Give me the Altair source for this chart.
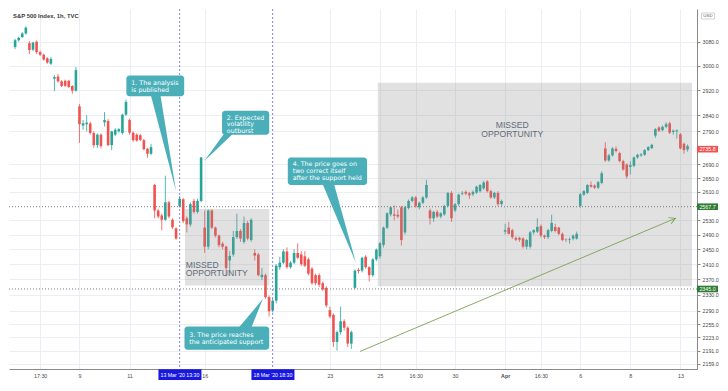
import altair as alt
import pandas as pd

W, H = 688, 360
FONT = "Liberation Sans, Arial, sans-serif"
CFONT = "DejaVu Sans, Verdana, sans-serif"
GREEN = "#26a69a"
RED = "#ef5350"
TEAL = "#4aafb9"

TITLE = "S&P 500 Index, 1h, TVC"

# ---- hourly candles, bar index 3..191 (7 bars per session) ----
FIRST_BAR = 3
opens = [3062, 3085, 3096, 3108,
         3075, 3053, 3080, 3045, 3036, 3024, 3006,
         2957, 2964, 2948, 2950, 2950, 2933, 2918,
         2868, 2808, 2812, 2815, 2785, 2748, 2780,
         2818, 2822, 2748, 2780, 2790, 2785, 2842,
         2825, 2786, 2780, 2778, 2763, 2737, 2722,
         2630, 2557, 2543, 2531, 2580, 2531, 2507,
         2570, 2589, 2535, 2518, 2584, 2553, 2584,
         2509, 2457, 2557, 2509, 2487, 2465, 2457,
         2420, 2436, 2483, 2500, 2470, 2522, 2475,
         2440, 2436, 2376, 2381, 2324, 2290, 2315,
         2402, 2414, 2444, 2402, 2414, 2440, 2436,
         2431, 2423, 2398, 2381, 2381, 2360, 2348,
         2291, 2279, 2212, 2236, 2263, 2247, 2208,
         2348, 2395, 2393, 2430, 2402, 2381, 2423,
         2431, 2462, 2509, 2546, 2546, 2545, 2566,
         2496, 2564, 2584, 2594, 2566, 2579, 2594,
         2557, 2535, 2553, 2540, 2546, 2570, 2607,
         2557, 2575, 2605, 2610, 2606, 2603, 2608,
         2612, 2620, 2640, 2612, 2594, 2607, 2575,
         2498, 2509, 2502, 2481, 2481, 2479, 2457,
         2457, 2496, 2498, 2513, 2487, 2483, 2500,
         2511, 2509, 2492, 2477, 2475, 2479, 2479,
         2570, 2602, 2607, 2630, 2628, 2622, 2636,
         2738, 2702, 2717, 2737, 2724, 2700, 2690,
         2683, 2686, 2711, 2717, 2719, 2733, 2739,
         2777, 2802, 2794, 2804, 2815, 2788, 2790,
         2781, 2752, 2735]
highs = [3090, 3097, 3112, 3132,
         3082, 3080, 3084, 3050, 3040, 3028, 3028,
         2968, 2972, 2952, 2954, 2953, 2936, 2995,
         2875, 2825, 2840, 2820, 2790, 2784, 2784,
         2850, 2828, 2792, 2800, 2800, 2845, 2890,
         2830, 2790, 2784, 2782, 2767, 2740, 2752,
         2633, 2562, 2548, 2657, 2584, 2535, 2510,
         2598, 2592, 2540, 2580, 2590, 2590, 2712,
         2557, 2560, 2560, 2512, 2490, 2470, 2460,
         2445, 2500, 2548, 2505, 2540, 2528, 2535,
         2450, 2440, 2400, 2385, 2328, 2320, 2410,
         2430, 2450, 2455, 2418, 2450, 2466, 2445,
         2445, 2428, 2402, 2385, 2386, 2364, 2352,
         2300, 2283, 2240, 2300, 2268, 2250, 2240,
         2396, 2400, 2430, 2434, 2405, 2426, 2452,
         2470, 2512, 2552, 2568, 2572, 2560, 2570,
         2570, 2588, 2598, 2598, 2582, 2598, 2645,
         2562, 2556, 2558, 2552, 2573, 2610, 2612,
         2578, 2605, 2612, 2614, 2610, 2614, 2628,
         2633, 2642, 2644, 2616, 2610, 2612, 2588,
         2520, 2525, 2506, 2485, 2484, 2483, 2478,
         2500, 2505, 2535, 2518, 2490, 2506, 2545,
         2520, 2512, 2496, 2480, 2482, 2490, 2498,
         2607, 2615, 2632, 2640, 2632, 2642, 2670,
         2757, 2722, 2742, 2744, 2728, 2704, 2694,
         2700, 2714, 2722, 2724, 2736, 2745, 2752,
         2800, 2806, 2808, 2818, 2820, 2796, 2796,
         2785, 2756, 2750]
lows = [3055, 3080, 3092, 3104,
        3038, 3048, 3038, 3032, 3016, 3006, 3002,
        2917, 2944, 2930, 2930, 2927, 2908, 2915,
        2755, 2795, 2790, 2780, 2740, 2740, 2738,
        2805, 2745, 2733, 2775, 2786, 2780, 2838,
        2780, 2758, 2758, 2760, 2732, 2710, 2718,
        2535, 2535, 2502, 2528, 2535, 2505, 2476,
        2565, 2522, 2496, 2512, 2548, 2548, 2580,
        2440, 2450, 2505, 2482, 2455, 2450, 2378,
        2380, 2430, 2478, 2470, 2465, 2474, 2470,
        2420, 2378, 2368, 2320, 2275, 2285, 2308,
        2395, 2410, 2398, 2398, 2410, 2424, 2405,
        2402, 2380, 2356, 2355, 2350, 2340, 2298,
        2270, 2200, 2191, 2230, 2240, 2200, 2195,
        2345, 2385, 2388, 2398, 2364, 2376, 2418,
        2425, 2455, 2505, 2540, 2530, 2535, 2460,
        2490, 2560, 2580, 2565, 2560, 2575, 2590,
        2518, 2525, 2536, 2535, 2542, 2566, 2525,
        2552, 2570, 2600, 2600, 2590, 2598, 2604,
        2608, 2616, 2608, 2590, 2590, 2570, 2570,
        2490, 2490, 2478, 2472, 2470, 2452, 2450,
        2452, 2490, 2494, 2482, 2478, 2478, 2496,
        2496, 2488, 2472, 2470, 2465, 2474, 2476,
        2565, 2598, 2604, 2622, 2618, 2618, 2632,
        2698, 2698, 2714, 2726, 2696, 2672, 2648,
        2660, 2682, 2707, 2713, 2716, 2730, 2736,
        2770, 2788, 2790, 2800, 2782, 2780, 2768,
        2735, 2722, 2728]
closes = [3085, 3093, 3108, 3128,
          3052, 3077, 3045, 3036, 3020, 3010, 3022,
          2962, 2948, 2933, 2934, 2930, 2918, 2985,
          2812, 2815, 2817, 2785, 2748, 2780, 2745,
          2825, 2748, 2790, 2795, 2797, 2842, 2882,
          2786, 2763, 2762, 2764, 2736, 2722, 2742,
          2557, 2540, 2531, 2580, 2540, 2510, 2479,
          2590, 2527, 2518, 2575, 2553, 2584, 2711,
          2457, 2557, 2509, 2487, 2461, 2457, 2400,
          2432, 2483, 2500, 2479, 2522, 2479, 2531,
          2433, 2381, 2382, 2324, 2288, 2315, 2406,
          2414, 2444, 2402, 2414, 2440, 2427, 2410,
          2406, 2385, 2360, 2360, 2356, 2344, 2303,
          2275, 2212, 2236, 2263, 2247, 2208, 2236,
          2393, 2392, 2427, 2402, 2381, 2423, 2449,
          2466, 2509, 2549, 2566, 2542, 2540, 2475,
          2566, 2584, 2594, 2569, 2579, 2594, 2630,
          2535, 2553, 2540, 2549, 2570, 2607, 2535,
          2575, 2602, 2607, 2605, 2600, 2610, 2625,
          2630, 2637, 2612, 2594, 2607, 2575, 2584,
          2502, 2492, 2483, 2476, 2476, 2457, 2475,
          2496, 2502, 2511, 2487, 2483, 2502, 2522,
          2500, 2492, 2475, 2476, 2477, 2487, 2492,
          2603, 2612, 2630, 2625, 2622, 2638, 2664,
          2702, 2717, 2738, 2730, 2700, 2675, 2655,
          2688, 2711, 2719, 2720, 2733, 2742, 2749,
          2797, 2792, 2804, 2812, 2786, 2792, 2793,
          2738, 2733, 2745]
bar_index = list(range(FIRST_BAR, FIRST_BAR + len(opens)))

# ---- axes ----
x_tick_bars = [10, 21, 35, 56, 91, 105, 115, 126, 140, 150, 161, 175, 189]
x_tick_labels = ["17:30", "9", "11", "16", "23", "25", "16:30", "30", "Apr", "16:30", "6", "8", "13"]
y_ticks = [3080, 3000, 2920, 2840, 2790, 2690, 2650, 2610, 2530, 2490, 2450,
           2410, 2370, 2330, 2290, 2255, 2223, 2191, 2159]
X_DOMAIN = [2.69, 192.24]
Y_DOMAIN = [2147, 3193]

# ---- drawings ----
marker_bars = [49, 75]
marker_labels = ["13 Mar '20  13:30", "18 Mar '20  18:30"]
level_prices = [2567.7, 2345.0]
level_labels = ["2567.7", "2345.0"]
last_price = 2735.8

zone_ids = ["small", "big"]
zone_x1 = [50.5, 104.4]
zone_x2 = [74.04, 192.24]
zone_p1 = [2354, 2352]
zone_p2 = [2561, 2944]

trend_bars = [99.43, 187.6]
trend_prices = [2189, 2535]

box_ids = ["b1", "b2", "b3", "b4"]
box_x1 = [34.11, 60.85, 50.35, 79.24]
box_x2 = [50.27, 74.04, 74.04, 101.4]
box_p1 = [2900, 2780, 2193, 2630]
box_p2 = [2967, 2854, 2250, 2711]

ptr_base_p = [2906, 2786, 2244, 2636]
ptr_base_xa = [40.9, 61.6, 65.2, 88.85]
ptr_base_xb = [43.6, 64.2, 68.9, 92.08]
ptr_tip_x = [48.0, 55.9, 72.25, 98.27]
ptr_tip_p = [2612, 2700, 2319, 2414]

callout_lines = ["1. The analysis", "is published",
                 "2. Expected", "volatility", "outburst",
                 "3. The price reaches", "the anticipated support",
                 "4. The price goes on", "two correct itself", "after the support held"]
callout_x = [35.5, 35.5, 62.2, 62.2, 62.2, 51.7, 51.7, 80.6, 80.6, 80.6]
callout_p = [2942, 2921, 2831, 2811.5, 2792, 2229, 2212, 2690, 2670, 2651]

missed_lines = ["MISSED", "OPPORTUNITY", "MISSED", "OPPORTUNITY"]
missed_x = [50.7, 50.7, 142.0, 142.0]
missed_p = [2408, 2385.6, 2808.6, 2781]
missed_align = ["left", "left", "center", "center"]

# ---------------------------------------------------------------
xs = alt.Scale(domain=X_DOMAIN, nice=False, zero=False)
ys = alt.Scale(type="log", domain=Y_DOMAIN, nice=False, zero=False)

label_expr = "".join(f"datum.value == {k} ? '{t}' : " for k, t in zip(x_tick_bars, x_tick_labels)) + "''"
x_axis = alt.Axis(values=x_tick_bars, labelExpr=label_expr, title=None, grid=True,
                  gridColor="#eceef3", gridWidth=1, ticks=False, domainColor="#8a8a8a",
                  labelFontSize=5.3, labelColor="#4a4a4a", labelFont=FONT, labelPadding=4,
                  labelFlush=False, labelOverlap=False,
                  labelFontWeight={"condition": {"test": "datum.value == 140", "value": "bold"},
                                   "value": "normal"})
y_axis = alt.Axis(orient="right", values=y_ticks, format=".1f", title=None, grid=True,
                  gridColor="#eceef3", gridWidth=1, tickSize=3, tickColor="#8a8a8a",
                  domainColor="#8a8a8a", labelFontSize=5.3, labelColor="#4a4a4a",
                  labelFont=FONT, labelPadding=2, labelOverlap=False)


def X(f):
    return alt.X(f, type="quantitative", scale=xs, axis=x_axis)


def Y(f):
    return alt.Y(f, type="quantitative", scale=ys, axis=y_axis)


candles = pd.DataFrame({"k": bar_index, "o": opens, "h": highs, "l": lows, "c": closes})
candles["dir"] = ["up" if c >= o else "down" for o, c in zip(opens, closes)]
color = alt.Color("dir:N", scale=alt.Scale(domain=["up", "down"], range=[GREEN, RED]), legend=None)

wicks = alt.Chart(candles).mark_rule(strokeWidth=0.8).encode(
    x=X("k"), y=Y("l"), y2="h:Q", color=color)
bodies = alt.Chart(candles).mark_bar(size=2.6).encode(
    x=X("k"), y=Y("o"), y2="c:Q", color=color)

zones = alt.Chart(pd.DataFrame({"id": zone_ids, "x1": zone_x1, "x2": zone_x2,
                                "p1": zone_p1, "p2": zone_p2})).mark_rect(
    color="#8c8c8c", opacity=0.26).encode(x=X("x1"), x2="x2:Q", y=Y("p1"), y2="p2:Q")

levels = alt.Chart(pd.DataFrame({"p": level_prices})).mark_rule(
    color="#7d7d7d", strokeDash=[1, 2], strokeWidth=1).encode(y=Y("p"))

markers = alt.Chart(pd.DataFrame({"k": marker_bars})).mark_rule(
    color="#6464dc", strokeDash=[2, 2], strokeWidth=0.8).encode(x=X("k"))

trend_df = pd.DataFrame({"k": trend_bars, "p": trend_prices})
trend = alt.Chart(trend_df).mark_line(color="#7aa14f", strokeWidth=0.9).encode(x=X("k"), y=Y("p"))
arrow = alt.Chart(trend_df.tail(1)).mark_point(
    shape="M -1 -0.55 L 0 0 L -1 0.55", filled=False, color="#7aa14f", strokeWidth=0.9,
    size=150, angle=337, opacity=1).encode(x=X("k"), y=Y("p"))

missed_df = pd.DataFrame({"t": missed_lines, "k": missed_x, "p": missed_p, "a": missed_align})
missed = alt.Chart(missed_df).transform_filter("datum.a == 'left'").mark_text(
    align="left", baseline="middle", fontSize=8.6, font=FONT, color="#5f6b7a").encode(
    x=X("k"), y=Y("p"), text="t:N")
missed_c = alt.Chart(missed_df).transform_filter("datum.a == 'center'").mark_text(
    align="center", baseline="middle", fontSize=8.6, font=FONT, color="#5f6b7a").encode(
    x=X("k"), y=Y("p"), text="t:N")

boxes = alt.Chart(pd.DataFrame({"id": box_ids, "x1": box_x1, "x2": box_x2,
                                "p1": box_p1, "p2": box_p2})).mark_rect(
    color=TEAL, cornerRadius=3).encode(x=X("x1"), x2="x2:Q", y=Y("p1"), y2="p2:Q")

ptr_rows = []
for i, bid in enumerate(box_ids):
    ptr_rows.append({"id": bid, "p": ptr_base_p[i], "xa": ptr_base_xa[i], "xb": ptr_base_xb[i]})
    ptr_rows.append({"id": bid, "p": ptr_tip_p[i], "xa": ptr_tip_x[i], "xb": ptr_tip_x[i]})
pointers = alt.Chart(pd.DataFrame(ptr_rows)).mark_area(
    orient="horizontal", color=TEAL, opacity=1).encode(
    y=Y("p"), x=X("xa"), x2="xb:Q", detail="id:N")

callouts = alt.Chart(pd.DataFrame({"t": callout_lines, "k": callout_x, "p": callout_p})).mark_text(
    align="left", baseline="middle", fontSize=6.3, font=CFONT, color="white").encode(
    x=X("k"), y=Y("p"), text="t:N")

RECT_PATH = "M -1.05 -0.33 L 1.05 -0.33 L 1.05 0.33 L -1.05 0.33 Z"
price_tags = pd.DataFrame({"p": level_prices + [last_price],
                           "t": level_labels + [f"{last_price:.1f}"],
                           "col": ["#2e7d32", "#2e7d32", RED]})
tag_boxes = alt.Chart(price_tags).mark_point(
    shape=RECT_PATH, filled=True, size=400, opacity=1, strokeWidth=0).encode(
    x=alt.value(W + 10.5), y=Y("p"), color=alt.Color("col:N", scale=None))
tag_text = alt.Chart(price_tags).mark_text(
    align="center", baseline="middle", fontSize=5.3, font=FONT, color="white").encode(
    x=alt.value(W + 10.5), y=Y("p"), text="t:N")

BLUE_PATH = "M -2.15 -0.53 L 2.15 -0.53 L 2.15 0.53 L -2.15 0.53 Z"
mk_df = pd.DataFrame({"k": marker_bars, "t": marker_labels})
mk_boxes = alt.Chart(mk_df).mark_point(
    shape=BLUE_PATH, filled=True, size=400, opacity=1, strokeWidth=0, color="#1717e0",
    xOffset=0.3).encode(x=X("k"), y=alt.value(H + 5.6))
mk_text = alt.Chart(mk_df).mark_text(
    align="center", baseline="middle", fontSize=5.2, font=FONT, color="white",
    dx=0.3).encode(x=X("k"), y=alt.value(H + 5.8), text="t:N")

title = alt.Chart(pd.DataFrame({"t": [TITLE]})).mark_text(
    align="left", baseline="middle", fontSize=5.9, fontWeight="bold", font=FONT,
    color="#3a3a3a").encode(x=alt.value(4), y=alt.value(7), text="t:N")

usd = pd.DataFrame({"t": ["USD"]})
usd_box = alt.Chart(usd).mark_point(
    shape="M -1.3 -0.6 L 1.3 -0.6 L 1.3 0.6 L -1.3 0.6 Z", filled=False, size=100,
    color="#b5b5b5", strokeWidth=0.6, opacity=1).encode(x=alt.value(W + 11), y=alt.value(7))
usd_text = alt.Chart(usd).mark_text(
    align="center", baseline="middle", fontSize=4.4, font=FONT, color="#555555").encode(
    x=alt.value(W + 11), y=alt.value(7), text="t:N")

chart = alt.layer(
    wicks, bodies, zones, levels, markers, trend, arrow, missed, missed_c,
    pointers, boxes, callouts, tag_boxes, tag_text, mk_boxes, mk_text,
    title, usd_box, usd_text
).properties(width=W, height=H, padding=0, background="white").configure_view(stroke=None)

chart.save("out.html", embed_options={"renderer": "svg", "actions": False})
